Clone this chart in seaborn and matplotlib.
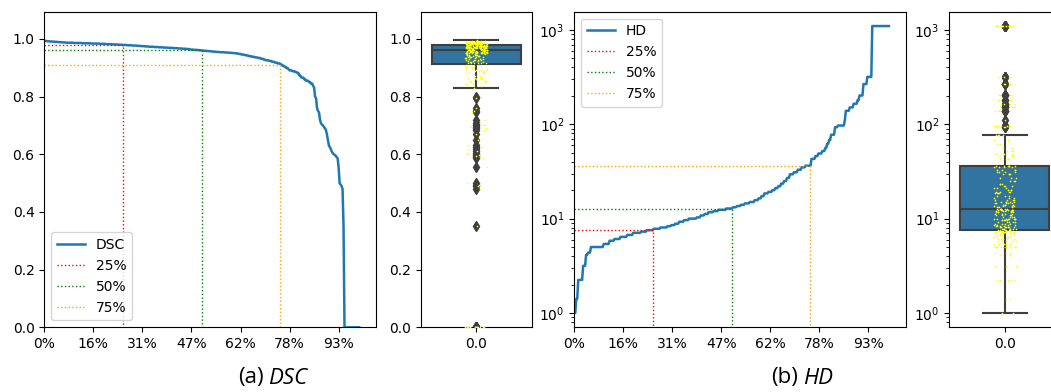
import numpy as np
import matplotlib
matplotlib.use("Agg")
import matplotlib.pyplot as plt
import matplotlib.ticker as mticker
import seaborn as sns

# DSC per case, sorted high -> low: distinct level and number of cases at it
dsc_levels = [0.995, 0.993, 0.992, 0.991, 0.990, 0.989, 0.988,
              0.987, 0.986, 0.985, 0.984,
              0.983, 0.982, 0.981, 0.980,
              0.979, 0.978, 0.977, 0.976, 0.975, 0.974,
              0.973, 0.972, 0.971, 0.970, 0.969, 0.968, 0.967,
              0.966, 0.965, 0.963, 0.962, 0.961,
              0.960, 0.959, 0.958, 0.957, 0.956,
              0.955, 0.954, 0.953, 0.952,
              0.951, 0.950, 0.948, 0.946, 0.944, 0.942,
              0.940, 0.938, 0.936, 0.934, 0.931, 0.928,
              0.926, 0.924, 0.921, 0.918, 0.915,
              0.911, 0.907, 0.903, 0.899, 0.895,
              0.891, 0.888, 0.885, 0.882,
              0.873, 0.866, 0.860, 0.855,
              0.850, 0.845, 0.838, 0.831,
              0.800, 0.795, 0.760, 0.750, 0.745, 0.720, 0.708, 0.703,
              0.700, 0.695, 0.690, 0.685, 0.670, 0.650, 0.632, 0.625,
              0.618, 0.610, 0.604, 0.600, 0.598, 0.595, 0.590, 0.586,
              0.555, 0.500, 0.495, 0.490, 0.480, 0.350,
              0.0]
dsc_counts = [1, 2, 3, 4, 4, 4, 4,
              8, 9, 9, 9,
              6, 6, 6, 5,
              5, 5, 5, 4, 4, 4,
              5, 5, 5, 5, 5, 5, 4,
              4, 4, 4, 4, 3,
              3, 3, 3, 3, 3,
              4, 5, 4, 4,
              3, 3, 3, 3, 3, 2,
              3, 3, 3, 3, 3, 2,
              3, 3, 3, 3, 3,
              2, 2, 2, 2, 1,
              3, 3, 2, 2,
              2, 3, 2, 3,
              2, 2, 1, 1,
              1, 1, 1, 1, 1, 1, 1, 1,
              1, 1, 1, 1, 1, 1, 1, 1,
              1, 1, 1, 1, 1, 1, 1, 1,
              1, 1, 1, 1, 1, 1,
              16]

# HD per case, sorted low -> high
hd_levels = [1.0, 1.41, 2.24, 3.16, 4.12, 4.36, 5.0, 5.39, 5.83, 6.08,
             6.4, 6.71, 7.07, 7.28, 7.55, 7.81, 8.06, 8.31, 8.54, 8.83,
             9.27, 9.64, 10.0, 10.3, 10.8, 11.2, 11.7, 12.0, 12.4, 12.8,
             13.2, 13.6, 14.0, 14.5, 15.0, 15.7, 16.4, 17.3, 18.5, 19.2,
             20.0, 21.0, 22.0, 23.5, 25.0, 27.0, 29.5, 31.0, 33.0, 35.0,
             36.4, 43.0, 46.0, 49.0, 52.0, 56.0, 62.0, 68.0, 77.5, 93.0,
             97.0, 110.0, 139.0, 151.0, 165.0, 180.0, 202.0, 267.0, 318.0,
             1100.0]
hd_counts = [2, 2, 5, 3, 2, 3, 13, 6, 5, 6,
             7, 6, 8, 6, 7, 7, 7, 4, 4, 4,
             5, 5, 8, 4, 4, 4, 5, 5, 8, 7,
             4, 4, 4, 5, 5, 4, 3, 3, 4, 4,
             3, 3, 3, 3, 3, 3, 4, 4, 4, 4,
             6, 4, 3, 4, 3, 2, 2, 2, 4, 3,
             7, 1, 4, 4, 4, 2, 4, 4, 5,
             18]

quantiles = [25, 50, 75]
quantile_colors = ["red", "green", "orange"]

dsc = np.repeat(dsc_levels, dsc_counts)
hd = np.repeat(hd_levels, hd_counts)

np.random.seed(3)

W, H = 1051, 392
fig = plt.figure(figsize=(W / 100, H / 100), dpi=100)


def px_axes(left, right, top=11.7, bottom=327.3):
    return fig.add_axes([left / W, 1 - bottom / H, (right - left) / W, (bottom - top) / H])


def curve(ax, vals, name, loc, log=False):
    n = len(vals)
    idx = np.arange(n)
    if log:
        ax.set_yscale("log")
    sns.lineplot(x=idx, y=vals, ax=ax, color="C0", linewidth=1.8, label=name)
    if log:
        ylim = ax.get_ylim()
    else:
        ylim = (0, vals.max() * 1.1)
    for q, c in zip(quantiles, quantile_colors):
        xq = q / 100 * (n - 1)
        yq = vals[int(round(xq))]
        ax.plot([0, xq, xq], [yq, yq, ylim[0]], ls=":", color=c, lw=1, label=f"{q}%")
    ax.set_ylim(ylim)
    ax.set_xlim(0, n * 1.05)
    ax.xaxis.set_major_locator(mticker.MultipleLocator(50))
    ax.xaxis.set_major_formatter(mticker.PercentFormatter(xmax=n, decimals=0))
    ax.legend(loc=loc)
    return ylim


def box(ax, vals, ylim, log=False):
    cat = np.zeros(len(vals))
    sns.boxplot(x=cat, y=vals, ax=ax, color="C0", saturation=0.75,
                linecolor="#3f3f3f", linewidth=1.5, fliersize=5,
                flierprops={"marker": "d", "markerfacecolor": "#3f3f3f",
                            "markeredgecolor": "#3f3f3f"})
    sns.stripplot(x=cat, y=vals, ax=ax, color="yellow", size=1.2, jitter=0.1)
    if log:
        ax.set_yscale("log")
    ax.set_ylim(ylim)


ax1 = px_axes(44.3, 376)
ax2 = px_axes(420.7, 531.7)
ax3 = px_axes(574.3, 905.7)
ax4 = px_axes(949.3, 1060.3)

lim = curve(ax1, dsc, "DSC", "lower left")
box(ax2, dsc, lim)
lim = curve(ax3, hd, "HD", "upper left", log=True)
box(ax4, hd, lim, log=True)

cap = dict(fontsize=16, family="Open Sans", va="center")
fig.text(264 / W, 1 - 378 / H, "(a)", ha="right", **cap)
fig.text(268 / W, 1 - 378 / H, "DSC", ha="left", style="italic", **cap)
fig.text(798 / W, 1 - 378 / H, "(b)", ha="right", **cap)
fig.text(803 / W, 1 - 378 / H, "HD", ha="left", style="italic", **cap)

fig.savefig("out.png", dpi=100)
